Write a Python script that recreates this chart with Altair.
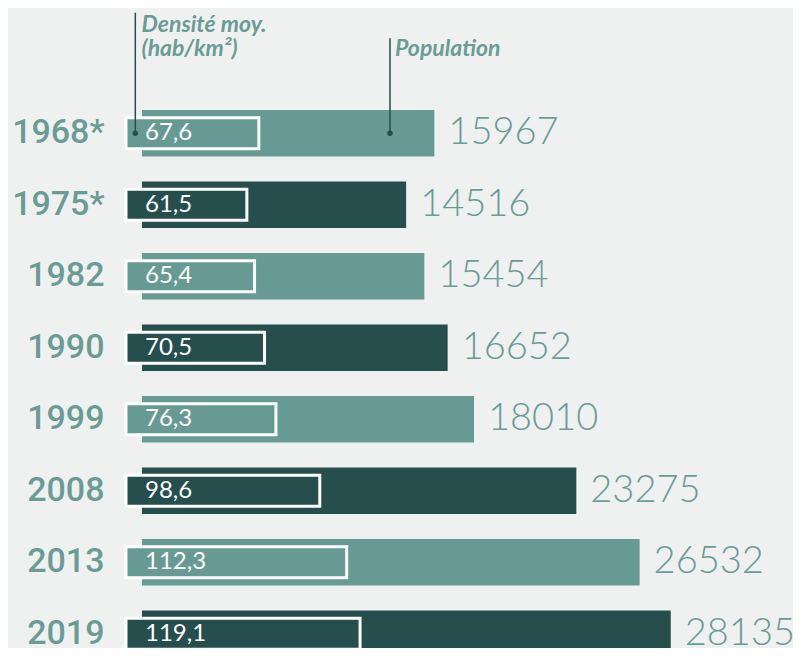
import altair as alt
import pandas as pd

years = ["1968*", "1975*", "1982", "1990", "1999", "2008", "2013", "2019"]
population = [15967, 14516, 15454, 16652, 18010, 23275, 26532, 28135]
density = [67.6, 61.5, 65.4, 70.5, 76.3, 98.6, 112.3, 119.1]
shade = ["light", "dark", "light", "dark", "light", "dark", "light", "dark"]

LIGHT = "#689a94"
DARK = "#254e4c"
TEAL = "#6a9c96"
BG = "#eff1f0"

df = pd.DataFrame({
    "year": years,
    "population": population,
    "density": density,
    "dlabel": [f"{d:.1f}".replace(".", ",") for d in density],
    "shade": shade,
})

y_enc = alt.Y(
    "year:N",
    scale=alt.Scale(domain=years, range=[0, 572], paddingInner=0.3497, paddingOuter=0.1748),
    axis=alt.Axis(
        title=None, domain=False, ticks=False, labelPadding=22,
        labelFont="Roboto", labelFontWeight=500, labelFontSize=34,
        labelColor=TEAL,
    ),
)
color_enc = alt.Color("shade:N", scale=alt.Scale(domain=["light", "dark"], range=[LIGHT, DARK]), legend=None)

pop_scale = alt.Scale(domain=[98, 34426], zero=False)
dens_scale = alt.Scale(domain=[0, 339.4])

base = alt.Chart(df)

pop_bars = base.mark_bar().encode(
    x=alt.X("population:Q", scale=pop_scale, axis=None),
    x2=alt.datum(921),
    y=y_enc,
    color=color_enc,
)
pop_text = base.mark_text(
    align="left", baseline="middle", dx=14, font="Lato", fontWeight=300,
    fontSize=38, color=TEAL,
).encode(
    x=alt.X("population:Q", scale=pop_scale, axis=None),
    y=y_enc,
    text=alt.Text("population:Q", format="d"),
)
dens_bars = base.mark_bar(height=31, stroke="white", strokeWidth=3).encode(
    x=alt.X("density:Q", scale=dens_scale, axis=None),
    y=y_enc,
    color=color_enc,
)
dens_text = base.mark_text(
    align="left", baseline="middle", font="Lato", fontSize=24, color="white",
).encode(
    x=alt.value(19),
    y=y_enc,
    text="dlabel:N",
)

ann = alt.Chart(pd.DataFrame({"year": ["1968*"]}))
rule_d = ann.mark_rule(color=DARK, strokeWidth=1.5).encode(
    x=alt.value(9.3), y=alt.value(-84.8), y2=alt.value(35.7)
)
rule_p = ann.mark_rule(color=DARK, strokeWidth=1.5).encode(
    x=alt.value(264), y=alt.value(-59.3), y2=alt.value(35.7)
)
dot_d = ann.mark_circle(size=30, color=DARK, opacity=1).encode(x=alt.value(9.3), y=y_enc)
dot_p = ann.mark_circle(size=30, color=DARK, opacity=1).encode(x=alt.value(264), y=y_enc)

txt_kw = dict(align="left", baseline="alphabetic", font="Lato", fontStyle="italic",
              fontWeight="bold", fontSize=23, color=TEAL)
t1 = ann.mark_text(text="Densité moy.", **txt_kw).encode(x=alt.value(15.5), y=alt.value(-65.3))
t2 = ann.mark_text(text="(hab/km²)", **txt_kw).encode(x=alt.value(15.5), y=alt.value(-42))
t3 = ann.mark_text(text="Population", **txt_kw).encode(x=alt.value(269), y=alt.value(-41.8))

chart = alt.layer(
    pop_bars, pop_text, dens_bars, dens_text, rule_d, rule_p, dot_d, dot_p, t1, t2, t3
).resolve_scale(x="independent").properties(
    width=667,
    height=550.4,
    padding={"left": 118, "top": 89.6, "right": 0, "bottom": 0},
    autosize=alt.AutoSizeParams(type="none"),
    background=BG,
).configure_view(stroke=None)

chart.save("out.html", embed_options={"renderer": "svg", "actions": False})
